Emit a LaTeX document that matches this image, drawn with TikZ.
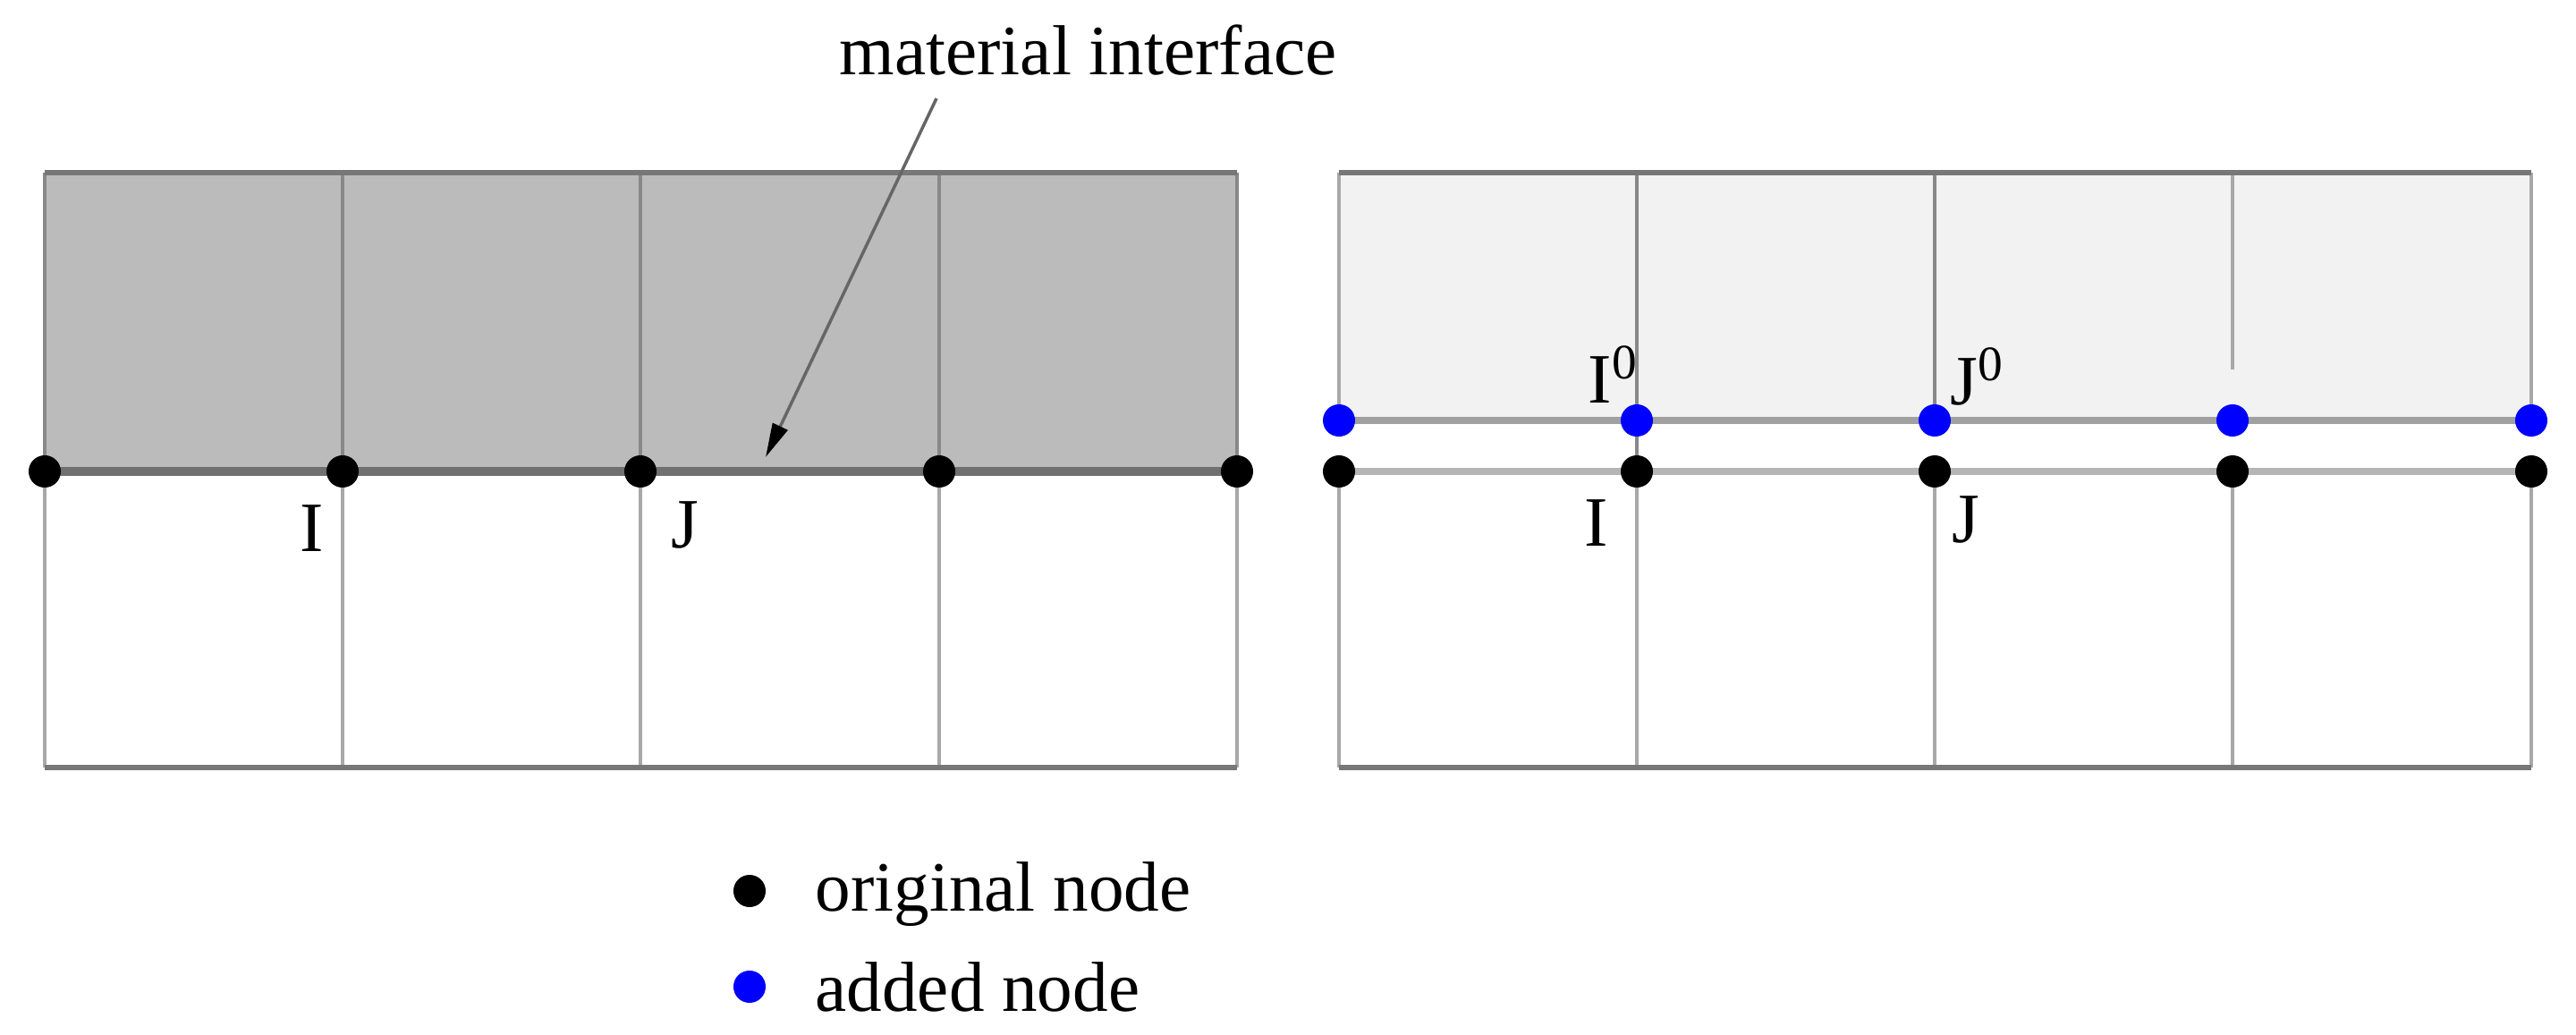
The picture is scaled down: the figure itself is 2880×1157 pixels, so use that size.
\documentclass[tikz,border=0pt]{standalone}
\usepackage{fontspec}
\setmainfont{Liberation Serif}
\usetikzlibrary{arrows.meta}
\definecolor{darkfill}{HTML}{BBBBBB}
\definecolor{lightfill}{HTML}{F2F2F2}
\definecolor{borderc}{HTML}{777777}
\definecolor{gridc}{HTML}{888888}
\definecolor{gridl}{HTML}{A8A8A8}
\definecolor{bluelinec}{HTML}{A0A0A0}
\definecolor{blacklinec}{HTML}{B5B5B5}
\definecolor{ifacec}{HTML}{707070}
\begin{document}
\begin{tikzpicture}[x=0.01cm,y=-0.01cm,
  lbl/.style={font=\fontsize{22.5pt}{27pt}\selectfont, inner sep=0pt, anchor=base west},
  odot/.style={circle, fill=black, inner sep=0pt, minimum size=0.36cm},
  bdot/.style={circle, fill=blue, inner sep=0pt, minimum size=0.36cm},
  border/.style={draw=borderc, line width=1.7pt},
  vdark/.style={draw=gridc, line width=1.3pt},
  vlight/.style={draw=gridl, line width=1.3pt}]
\useasboundingbox (0,0) rectangle (2880,1157);

% ---------- left grid ----------
\fill[darkfill] (50,193) rectangle (1383,527);
\foreach \x in {50,383,716,1050,1383} {
  \draw[vdark] (\x,193) -- (\x,527);
  \draw[vlight] (\x,527) -- (\x,858);
}
\draw[border] (50,193) -- (1383,193);
\draw[border] (50,858) -- (1383,858);
\draw[draw=ifacec, line width=2.6pt] (50,527) -- (1383,527);

% ---------- right grid ----------
\fill[lightfill] (1497,193) rectangle (2830,470);
\draw[vlight] (1497,193) -- (1497,470);
\draw[vlight] (2830,193) -- (2830,470);
\draw[vdark] (1830,193) -- (1830,527);
\draw[vdark] (2163,193) -- (2163,470);
\draw[vlight] (2496,193) -- (2496,413);
\foreach \x in {1497,1830,2163,2496,2830} {
  \draw[vlight] (\x,527) -- (\x,858);
}
\draw[border] (1497,193) -- (2830,193);
\draw[border] (1497,858) -- (2830,858);
\draw[draw=bluelinec, line width=2.2pt] (1497,470) -- (2830,470);
\draw[draw=blacklinec, line width=2.2pt] (1497,527) -- (2830,527);

% ---------- nodes ----------
\node[odot] (L1) at (50,527) {};
\node[odot] (L2) at (383,527) {};
\node[odot] (L3) at (716,527) {};
\node[odot] (L4) at (1050,527) {};
\node[odot] (L5) at (1383,527) {};

\node[bdot] (B1) at (1497,470) {};
\node[bdot] (B2) at (1830,470) {};
\node[bdot] (B3) at (2163,470) {};
\node[bdot] (B4) at (2496,470) {};
\node[bdot] (B5) at (2830,470) {};

\node[odot] (R1) at (1497,527) {};
\node[odot] (R2) at (1830,527) {};
\node[odot] (R3) at (2163,527) {};
\node[odot] (R4) at (2496,527) {};
\node[odot] (R5) at (2830,527) {};

% ---------- labels ----------
\node[lbl] (lI) at (335,616) {I};
\node[lbl] (lJ) at (750,612) {J};
\node[lbl] (rI) at (1771,610) {I};
\node[lbl] (rJ) at (2182,606) {J};
\node[lbl] (rI0) at (1775,450) {I\textsuperscript{0}};
\node[lbl] (rJ0) at (2180,452) {J\textsuperscript{0}};

\node[lbl] (mat) at (938,83) {material interface};
\coordinate (arrS) at (1047,110);
\coordinate (arrE) at (856,511);
\draw[draw=black!60, line width=1pt, -{Triangle[length=0.38cm,width=0.18cm,color=black]}] (arrS) -- (arrE);

% ---------- legend ----------
\node[odot] (legO) at (838,996) {};
\node[bdot] (legB) at (838,1103) {};
\node[lbl] (legOt) at (911,1018) {original node};
\node[lbl] (legBt) at (911,1130) {added node};
\end{tikzpicture}
\end{document}
